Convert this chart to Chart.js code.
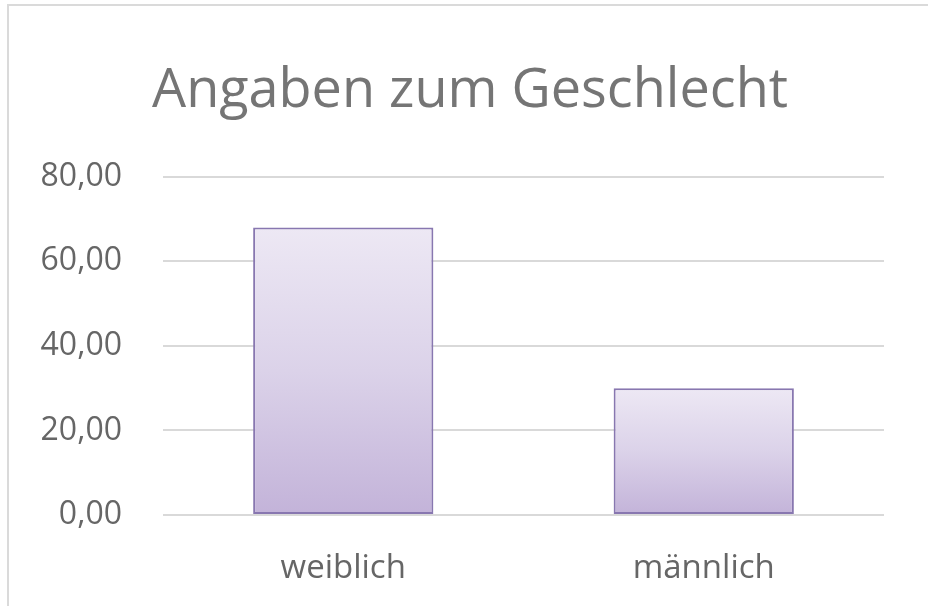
<!DOCTYPE html>
<html lang="de">
<head>
  <meta charset="UTF-8" />
  <title>Angaben zum Geschlecht</title>
  <style>
    *{box-sizing:border-box}
    html,body{margin:0;background:#fff}
    .frame{position:absolute;left:7px;top:4px;width:940px;height:620px;border:2px solid #dadada}
    .wrap{position:absolute;left:0;top:0;width:928px;height:606px}
  </style>
</head>
<body>
  <div class="frame"></div>
  <div class="wrap"><canvas id="chart" width="928" height="606"></canvas></div>

  <script src="https://cdn.jsdelivr.net/npm/chart.js"></script>
  <script>
    const categories = ['weiblich', 'männlich'];
    const values = [68, 30];
    const yTicks = [0, 20, 40, 60, 80];
    const titleText = 'Angaben zum Geschlecht';

    const fam = "'Open Sans', 'Noto Sans', sans-serif";

    // vertical gradient per bar, light at top, deeper lavender at bottom
    function barFill(ctx) {
      const chart = ctx.chart;
      if (!chart.chartArea || !chart.scales.y) return '#d6cce6';
      const y = chart.scales.y;
      const top = y.getPixelForValue(ctx.dataset.data[ctx.dataIndex]);
      const bottom = y.getPixelForValue(0);
      const g = chart.ctx.createLinearGradient(0, top, 0, bottom);
      g.addColorStop(0, '#ede8f4');
      g.addColorStop(0.5, '#dbd2e9');
      g.addColorStop(1, '#c3b3d9');
      return g;
    }

    new Chart(document.getElementById('chart'), {
      type: 'bar',
      data: {
        labels: categories,
        datasets: [{
          data: values,
          backgroundColor: barFill,
          borderColor: '#8877b0',
          borderWidth: 2,
          borderSkipped: false,
          categoryPercentage: 1,
          barPercentage: 0.5
        }]
      },
      options: {
        responsive: false,
        animation: false,
        devicePixelRatio: 1,
        layout: { padding: { left: 12, right: 0, top: 0, bottom: 0 } },
        plugins: {
          legend: { display: false },
          tooltip: { enabled: false },
          title: {
            display: true,
            text: titleText,
            color: '#757575',
            font: { family: fam, size: 54, weight: 'normal' },
            padding: { top: 59, bottom: 53 }
          }
        },
        scales: {
          x: {
            afterFit: s => { s.height = 91; },
            grid: { display: false, drawTicks: false },
            border: { display: false },
            ticks: { color: '#666', font: { family: fam, size: 33 }, padding: 34 }
          },
          y: {
            min: 0,
            max: 80,
            afterFit: s => { s.width = 151; },
            afterBuildTicks: s => { s.ticks = yTicks.map(v => ({ value: v })); },
            grid: { color: '#d9d9d9', lineWidth: 2, drawTicks: false },
            border: { display: false },
            ticks: {
              color: '#666',
              font: { family: fam, size: 32 },
              padding: 41,
              callback: v => v.toFixed(2).replace('.', ',')
            }
          },
          // empty right margin so the plot ends where the reference does
          pad: {
            position: 'right',
            afterFit: s => { s.width = 44; },
            grid: { display: false, drawTicks: false },
            border: { display: false },
            ticks: { display: false }
          }
        }
      }
    });
  </script>
</body>
</html>
